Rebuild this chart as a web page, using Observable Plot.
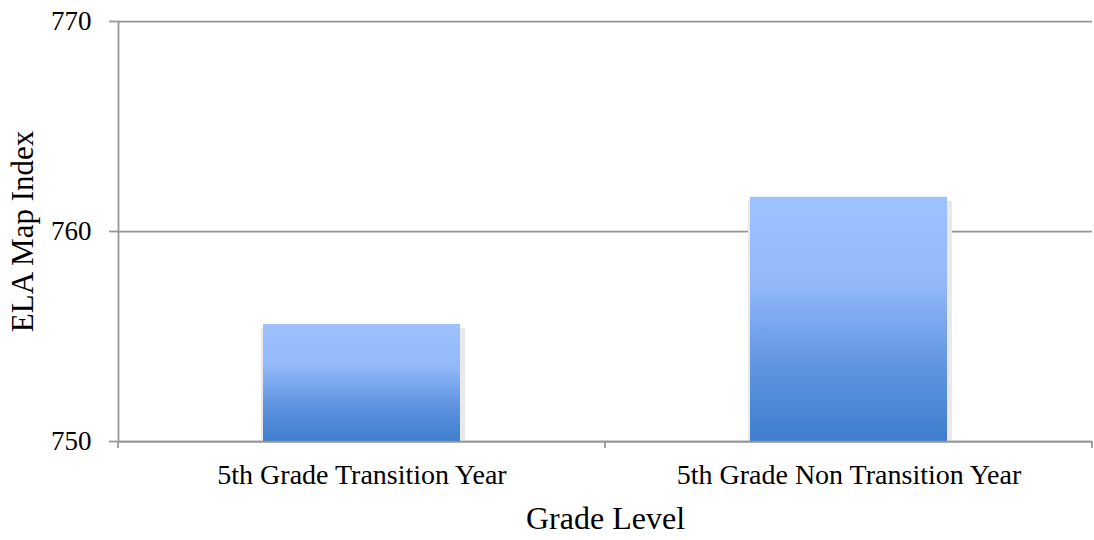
<!DOCTYPE html>
<html><head><meta charset="utf-8">
<script src="https://cdn.jsdelivr.net/npm/d3@7"></script>
<script src="https://cdn.jsdelivr.net/npm/@observablehq/plot@0.6"></script>
<style>
body{margin:0;background:#fff}
#chart svg{font-family:"Liberation Serif",serif}
</style>
</head><body><div id="chart"></div>
<script>
const categories = ["5th Grade Transition Year", "5th Grade Non Transition Year"];
const values = [755.57, 761.63];
const yTicks = [750, 760, 770];
const yDomain = [750, 770];
const xTitle = "Grade Level";
const yTitle = "ELA Map Index";

const data = categories.map((c, i) => ({category: c, value: values[i]}));
const axisColor = "#959595";

const gradientDefs = () => {
  const ns = "http://www.w3.org/2000/svg";
  const defs = document.createElementNS(ns, "defs");
  const g = document.createElementNS(ns, "linearGradient");
  g.setAttribute("id", "barGrad");
  g.setAttribute("x1", "0"); g.setAttribute("y1", "0");
  g.setAttribute("x2", "0"); g.setAttribute("y2", "1");
  [[0, "#9dc2ff"], [0.35, "#93b9fb"], [0.7, "#5f94e0"], [1, "#3d7ecd"]].forEach(([o, c]) => {
    const s = document.createElementNS(ns, "stop");
    s.setAttribute("offset", o); s.setAttribute("stop-color", c);
    g.appendChild(s);
  });
  defs.appendChild(g);
  return defs;
};

const plot = Plot.plot({
  width: 1094, height: 540,
  marginLeft: 118, marginRight: 2, marginTop: 21, marginBottom: 99,
  style: {fontFamily: "Liberation Serif", fontSize: "27px", color: "#000", background: "#fff", overflow: "visible"},
  x: {domain: categories, paddingInner: 0.5955, paddingOuter: 0.2977, align: 0.5},
  y: {domain: yDomain},
  marks: [
    gradientDefs,
    Plot.gridY(yTicks, {stroke: axisColor, strokeOpacity: 1, strokeWidth: 1.75}),
    Plot.barY(data, {x: "category", y1: yDomain[0], y2: "value", fill: "#e9e9e9", insetLeft: -2, insetRight: -5, insetTop: 4}),
    Plot.barY(data, {x: "category", y1: yDomain[0], y2: "value", fill: "url(#barGrad)"}),
    Plot.ruleY([yDomain[0]], {stroke: axisColor, strokeWidth: 1.75}),
    Plot.frame({anchor: "left", stroke: axisColor, strokeWidth: 1.75}),
    Plot.axisY(yTicks, {tickSize: 9, tickPadding: 18, stroke: axisColor, strokeWidth: 1.75, label: null, fill: "#000", fontSize: 27}),
    Plot.axisX({tickSize: 0, tickPadding: 23, label: null, fill: "#000", fontSize: 28}),
    Plot.text([yTitle], {frameAnchor: "left", rotate: -90, dx: -95, textAnchor: "middle", lineAnchor: "middle", fontSize: 31, fill: "#000"}),
    Plot.text([xTitle], {frameAnchor: "bottom", dy: 77, textAnchor: "middle", lineAnchor: "middle", fontSize: 32, fill: "#000"})
  ]
});

// band-boundary ticks on the x axis, derived from the library's x scale
const xs = plot.scale("x");
const half = (xs.step - xs.bandwidth) / 2;
const y0 = plot.scale("y").apply(yDomain[0]);
const bounds = new Set();
categories.forEach(c => { const s = xs.apply(c); bounds.add(s - half); bounds.add(s + xs.bandwidth + half); });
const svg = d3.select(plot);
svg.append("g").selectAll("line").data([...bounds]).join("line")
  .attr("x1", d => d).attr("x2", d => d).attr("y1", y0).attr("y2", y0 + 7)
  .attr("stroke", axisColor).attr("stroke-width", 1.75);

document.getElementById("chart").appendChild(plot);
</script>
</body></html>
